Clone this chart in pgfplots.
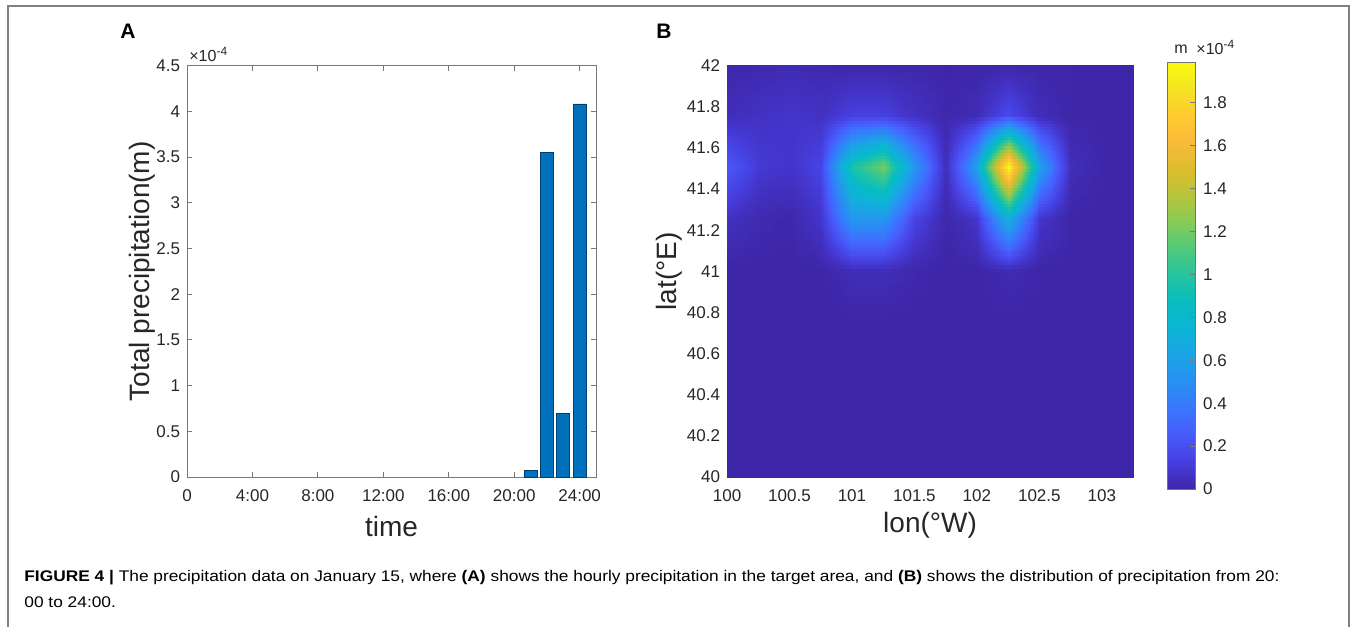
\documentclass[border=0pt]{standalone}
\usepackage{pgfplots}
\pgfplotsset{compat=1.18}
\usepgfplotslibrary{patchplots}
\usepackage{fontspec}
\setmainfont{Liberation Sans}

\definecolor{axgray}{RGB}{38,38,38}
\definecolor{linegray}{RGB}{120,120,120}
\definecolor{framegray}{RGB}{128,128,128}
\definecolor{barblue}{RGB}{0,114,189}
\definecolor{baredge}{RGB}{0,62,112}
\definecolor{captext}{RGB}{35,35,35}

\tikzset{
  tickfont/.style={font=\fontsize{8.5bp}{10bp}\selectfont, text=axgray},
  labelfont/.style={font=\fontsize{14bp}{16bp}\selectfont, text=axgray},
  expfont/.style={font=\fontsize{8bp}{9bp}\selectfont, text=axgray, inner sep=0, anchor=base west},
}
\pgfplotsset{
  /pgf/number format/assume math mode=true,
  colormap={parula}{
    rgb255=(62,38,168) rgb255=(70,62,222) rgb255=(72,90,250) rgb255=(58,118,253)
    rgb255=(40,143,243) rgb255=(28,163,230) rgb255=(12,180,214) rgb255=(8,188,192)
    rgb255=(38,196,160) rgb255=(80,201,124) rgb255=(135,203,86) rgb255=(182,196,58)
    rgb255=(220,189,46) rgb255=(250,186,58) rgb255=(254,203,48) rgb255=(244,227,34)
    rgb255=(249,251,14)},
}

\newsavebox\capone
\newsavebox\captwo
\newcommand\expfour{×10\raisebox{0.8ex}{\fontsize{6bp}{7bp}\selectfont -4}}

\begin{document}
\sbox\capone{\fontsize{7.7bp}{9bp}\selectfont\textbf{FIGURE 4 |} The precipitation data on January 15, where \textbf{(A)} shows the hourly precipitation in the target area, and \textbf{(B)} shows the distribution of precipitation from 20:}%
\sbox\captwo{\fontsize{7.7bp}{9bp}\selectfont 00 to 24:00.}%
\pgfmathsetmacro\capratio{627.5bp/\wd\capone}%
\begin{tikzpicture}[x=0.5bp,y=-0.5bp]
\path[use as bounding box] (0,0) rectangle (1356,627);
\draw[framegray, line width=0.9bp] (8,650) -- (8,6) -- (1349,6) -- (1349,650);

% panel A: hourly precipitation
\begin{axis}[
  at={(93.5bp,-238.5bp)}, anchor=south west,
  scale only axis, width=204.5bp, height=205.75bp,
  xmin=0, xmax=25, ymin=0, ymax=4.5,
  xtick={0,4,8,12,16,20,24},
  xticklabels={0,4:00,8:00,12:00,16:00,20:00,24:00},
  ytick={0,0.5,1,1.5,2,2.5,3,3.5,4,4.5},
  scaled ticks=false,
  tick align=inside, major tick length=2.5bp,
  axis line style={linegray, line width=0.5bp},
  tick style={linegray, line width=0.4bp},
  ticklabel style={tickfont},
  xticklabel style={yshift=-3bp},
  xlabel={time}, ylabel={Total precipitation(m)},
  xlabel style={labelfont, at={(axis description cs:0.5,-0.1434)}, anchor=base},
  ylabel style={labelfont, at={(axis description cs:-0.0929,0.5)}, anchor=base},
]
% values in units of 1e-4 m
\addplot[ybar, bar width=0.8, fill=barblue, draw=baredge, line width=0.4bp]
  coordinates {(21,0.07) (22,3.55) (23,0.70) (24,4.08)};
\end{axis}

% panel B: spatial distribution 20:00-24:00
\begin{axis}[
  at={(363.5bp,-238.5bp)}, anchor=south west,
  scale only axis, width=203bp, height=205.75bp,
  xmin=100, xmax=103.25, ymin=40, ymax=42,
  xtick={100,100.5,101,101.5,102,102.5,103},
  ytick={40,40.2,40.4,40.6,40.8,41,41.2,41.4,41.6,41.8,42},
  scaled ticks=false,
  axis line style={draw=none}, major tick length=0pt,
  ticklabel style={tickfont},
  xticklabel style={yshift=-3bp},
  xlabel={lon(°W)}, ylabel={lat(°E)},
  xlabel style={labelfont, at={(axis description cs:0.5,-0.1337)}, anchor=base},
  ylabel style={labelfont, at={(axis description cs:-0.125,0.5)}, anchor=base},
  colormap name=parula, point meta min=0, point meta max=1.99,
  colorbar,
  colorbar shift/.style={xshift=17.25bp, yshift=-6bp},
  colorbar style={
    at={(parent axis.south east)}, anchor=south west,
    scale only axis, width=13.75bp, height=213.5bp,
    ytick={0,0.2,0.4,0.6,0.8,1,1.2,1.4,1.6,1.8},
    ytick pos=right, yticklabel pos=right,
    tick align=inside, major tick length=2.5bp,
    axis line style={black!55, line width=0.3bp},
    tick style={linegray, line width=0.4bp},
    yticklabel style={tickfont, xshift=0.5bp},
    scaled ticks=false,
  },
]
% precipitation on a 0.25 degree grid, units of 1e-4 m
\addplot[surf, shader=interp, patch type=bilinear, mesh/rows=9, mesh/cols=14, point meta=explicit] coordinates {
(100,40)[0] (100.25,40)[0] (100.5,40)[0] (100.75,40)[0] (101,40)[0] (101.25,40)[0] (101.5,40)[0] (101.75,40)[0] (102,40)[0] (102.25,40)[0] (102.5,40)[0] (102.75,40)[0] (103,40)[0] (103.25,40)[0]
(100,40.25)[0] (100.25,40.25)[0] (100.5,40.25)[0] (100.75,40.25)[0] (101,40.25)[0] (101.25,40.25)[0] (101.5,40.25)[0] (101.75,40.25)[0] (102,40.25)[0] (102.25,40.25)[0] (102.5,40.25)[0] (102.75,40.25)[0] (103,40.25)[0] (103.25,40.25)[0]
(100,40.5)[0] (100.25,40.5)[0] (100.5,40.5)[0] (100.75,40.5)[0] (101,40.5)[0] (101.25,40.5)[0] (101.5,40.5)[0] (101.75,40.5)[0] (102,40.5)[0] (102.25,40.5)[0] (102.5,40.5)[0] (102.75,40.5)[0] (103,40.5)[0] (103.25,40.5)[0]
(100,40.75)[0] (100.25,40.75)[0] (100.5,40.75)[0] (100.75,40.75)[0] (101,40.75)[0] (101.25,40.75)[0] (101.5,40.75)[0] (101.75,40.75)[0] (102,40.75)[0] (102.25,40.75)[0] (102.5,40.75)[0] (102.75,40.75)[0] (103,40.75)[0] (103.25,40.75)[0]
(100,41)[0] (100.25,41)[0] (100.5,41)[0] (100.75,41)[0] (101,41)[0.04] (101.25,41)[0.04] (101.5,41)[0.01] (101.75,41)[0] (102,41)[0] (102.25,41)[0.03] (102.5,41)[0] (102.75,41)[0] (103,41)[0] (103.25,41)[0]
(100,41.25)[0.06] (100.25,41.25)[0.02] (100.5,41.25)[0.01] (100.75,41.25)[0.08] (101,41.25)[0.55] (101.25,41.25)[0.55] (101.5,41.25)[0.15] (101.75,41.25)[0.01] (102,41.25)[0.08] (102.25,41.25)[0.72] (102.5,41.25)[0.08] (102.75,41.25)[0] (103,41.25)[0] (103.25,41.25)[0]
(100,41.5)[0.25] (100.25,41.5)[0.1] (100.5,41.5)[0.08] (100.75,41.5)[0.15] (101,41.5)[0.95] (101.25,41.5)[1.2] (101.5,41.5)[0.55] (101.75,41.5)[0.04] (102,41.5)[0.6] (102.25,41.5)[1.99] (102.5,41.5)[0.6] (102.75,41.5)[0.04] (103,41.5)[0] (103.25,41.5)[0]
(100,41.75)[0.04] (100.25,41.75)[0.06] (100.5,41.75)[0.08] (100.75,41.75)[0.06] (101,41.75)[0.13] (101.25,41.75)[0.13] (101.5,41.75)[0.06] (101.75,41.75)[0.01] (102,41.75)[0.03] (102.25,41.75)[0.18] (102.5,41.75)[0.03] (102.75,41.75)[0] (103,41.75)[0] (103.25,41.75)[0]
(100,42)[0] (100.25,42)[0.01] (100.5,42)[0.02] (100.75,42)[0.01] (101,42)[0] (101.25,42)[0] (101.5,42)[0] (101.75,42)[0] (102,42)[0] (102.25,42)[0] (102.5,42)[0] (102.75,42)[0] (103,42)[0] (103.25,42)[0]
};
\end{axis}

% panel letters
\node[font=\bfseries\fontsize{10.5bp}{12bp}\selectfont] at (128,31.5) {A};
\node[font=\bfseries\fontsize{10.5bp}{12bp}\selectfont] at (664,31.5) {B};

% exponent labels
\node[expfont] at (189,62) {\expfour};
\node[expfont] at (1174,54) {m};
\node[expfont] at (1196,55) {\expfour};

% caption
\node[anchor=base west, inner sep=0, text=captext] at (24,581) {\scalebox{\capratio}[1]{\usebox\capone}};
\node[anchor=base west, inner sep=0, text=captext] at (24,607) {\scalebox{\capratio}[1]{\usebox\captwo}};
\end{tikzpicture}
\end{document}
